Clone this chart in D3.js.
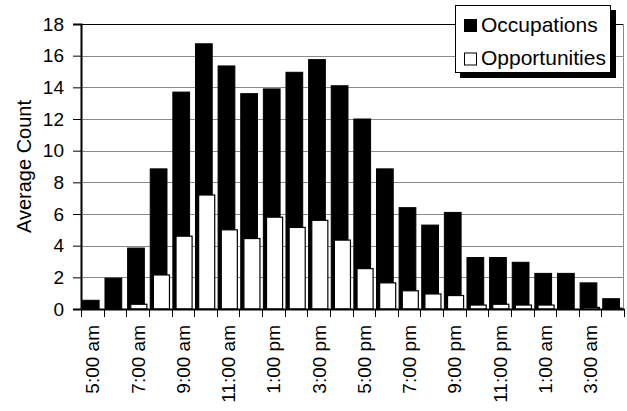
<!DOCTYPE html>
<html>
<head>
<meta charset="utf-8">
<script src="https://cdn.jsdelivr.net/npm/d3@7"></script>
<style>
  html, body { margin: 0; padding: 0; background: #fff; }
  svg { display: block; font-family: "Liberation Sans", Arial, sans-serif; }
</style>
</head>
<body>
<svg id="chart" width="627" height="411"></svg>
<script>
const categories = ["5:00 am","6:00 am","7:00 am","8:00 am","9:00 am","10:00 am","11:00 am","12:00 pm",
  "1:00 pm","2:00 pm","3:00 pm","4:00 pm","5:00 pm","6:00 pm","7:00 pm","8:00 pm","9:00 pm","10:00 pm",
  "11:00 pm","12:00 am","1:00 am","2:00 am","3:00 am","4:00 am"];
const tickLabels = ["5:00 am","7:00 am","9:00 am","11:00 am","1:00 pm","3:00 pm","5:00 pm","7:00 pm",
  "9:00 pm","11:00 pm","1:00 am","3:00 am"];
const occupations = [0.55, 1.95, 3.85, 8.85, 13.7, 16.75, 15.35, 13.6, 13.9, 14.95, 15.75, 14.1,
  12.0, 8.85, 6.4, 5.3, 6.1, 3.25, 3.25, 2.95, 2.25, 2.25, 1.65, 0.65];
const opportunities = [0, 0, 0.3, 2.15, 4.6, 7.2, 5.0, 4.45, 5.8, 5.15, 5.6, 4.35,
  2.55, 1.65, 1.15, 0.95, 0.85, 0.25, 0.3, 0.25, 0.25, 0, 0.1, 0.05];
const yTicks = [0, 2, 4, 6, 8, 10, 12, 14, 16, 18];
const seriesNames = ["Occupations", "Opportunities"];

(function () {
const svg = d3.select("#chart");
const mLeft = 81, mRight = 624, mTop = 24, mBottom = 309;

const x = d3.scaleBand().domain(categories).range([mLeft, mRight]).padding(0);
const y = d3.scaleLinear().domain([0, 18]).range([mBottom, mTop]);
const bw = x.bandwidth();

// gridlines
svg.append("g").selectAll("line").data(yTicks.filter(d => d > 0 && d < 18)).join("line")
  .attr("x1", mLeft).attr("x2", mRight)
  .attr("y1", d => Math.round(y(d)) + 0.5).attr("y2", d => Math.round(y(d)) + 0.5)
  .attr("stroke", "#8a8a8a").attr("stroke-width", 1);
// top border
svg.append("line").attr("x1", mLeft).attr("x2", mRight).attr("y1", Math.round(y(18)) + 0.5).attr("y2", Math.round(y(18)) + 0.5)
  .attr("stroke", "#000").attr("stroke-width", 1);
// right border
svg.append("line").attr("x1", mRight - 0.5).attr("x2", mRight - 0.5).attr("y1", y(18)).attr("y2", y(0))
  .attr("stroke", "#8a8a8a").attr("stroke-width", 1);

const occData = categories.map((c, i) => ({c, v: occupations[i]}));
const oppData = categories.map((c, i) => ({c, v: opportunities[i]})).filter(d => d.v > 0);

// bars
svg.append("g").selectAll("rect").data(occData).join("rect")
  .attr("x", d => x(d.c) + 0.06 * bw)
  .attr("width", 0.74 * bw)
  .attr("y", d => y(d.v))
  .attr("height", d => y(0) - y(d.v))
  .attr("fill", "#000").attr("stroke", "#000").attr("stroke-width", 1);

svg.append("g").selectAll("rect").data(oppData).join("rect")
  .attr("x", d => x(d.c) + 0.2 * bw)
  .attr("width", 0.71 * bw)
  .attr("y", d => y(d.v))
  .attr("height", d => y(0) - y(d.v))
  .attr("fill", "#fff").attr("stroke", "#000").attr("stroke-width", 1.2);

// y axis
const yAxis = d3.axisLeft(y).tickValues(yTicks).tickSize(8).tickPadding(9).tickFormat(d3.format("d"));
const gy = svg.append("g").attr("transform", `translate(${mLeft},0)`).call(yAxis);
gy.select(".domain").attr("stroke-width", 2);
gy.selectAll(".tick line").attr("stroke-width", 1);
gy.selectAll("text").attr("font-size", 19).attr("fill", "#000").attr("font-family", "Liberation Sans, Arial, sans-serif");

// x axis
const xAxis = d3.axisBottom(x).tickSize(0).tickFormat(() => "");
const gx = svg.append("g").attr("transform", `translate(0,${mBottom})`).call(xAxis);
gx.select(".domain").attr("stroke-width", 2);
// tick marks at band boundaries
svg.append("g").selectAll("line").data(categories.concat(["_end"])).join("line")
  .attr("x1", (d, i) => Math.round(mLeft + i * bw) + 0.5)
  .attr("x2", (d, i) => Math.round(mLeft + i * bw) + 0.5)
  .attr("y1", mBottom).attr("y2", mBottom + 8)
  .attr("stroke", "#000").attr("stroke-width", 1);
// x labels
svg.append("g").selectAll("text").data(tickLabels).join("text")
  .attr("transform", d => `translate(${x(d) + bw / 2 + 7},${mBottom + 16}) rotate(-90)`)
  .attr("text-anchor", "end")
  .attr("font-size", 19)
  .attr("fill", "#000")
  .text(d => d);

// y title
svg.append("text")
  .attr("transform", `translate(31,${(mTop + mBottom) / 2}) rotate(-90)`)
  .attr("text-anchor", "middle")
  .attr("font-size", 20)
  .attr("fill", "#000")
  .text("Average Count");

// legend
const lg = svg.append("g");
lg.append("rect").attr("x", 460).attr("y", 10).attr("width", 156).attr("height", 68).attr("fill", "#000");
lg.append("rect").attr("x", 455.5).attr("y", 5.5).attr("width", 155).attr("height", 67).attr("fill", "#fff").attr("stroke", "#000");
const rows = [{name: seriesNames[0], fill: "#000", base: 31.5}, {name: seriesNames[1], fill: "#fff", base: 65}];
rows.forEach(r => {
  lg.append("rect").attr("x", 464.5).attr("y", r.base - 12).attr("width", 12).attr("height", 12)
    .attr("fill", r.fill).attr("stroke", "#000");
  lg.append("text").attr("x", 481).attr("y", r.base).attr("font-size", 21).attr("fill", "#000").text(r.name);
});
})();
</script>
</body>
</html>
